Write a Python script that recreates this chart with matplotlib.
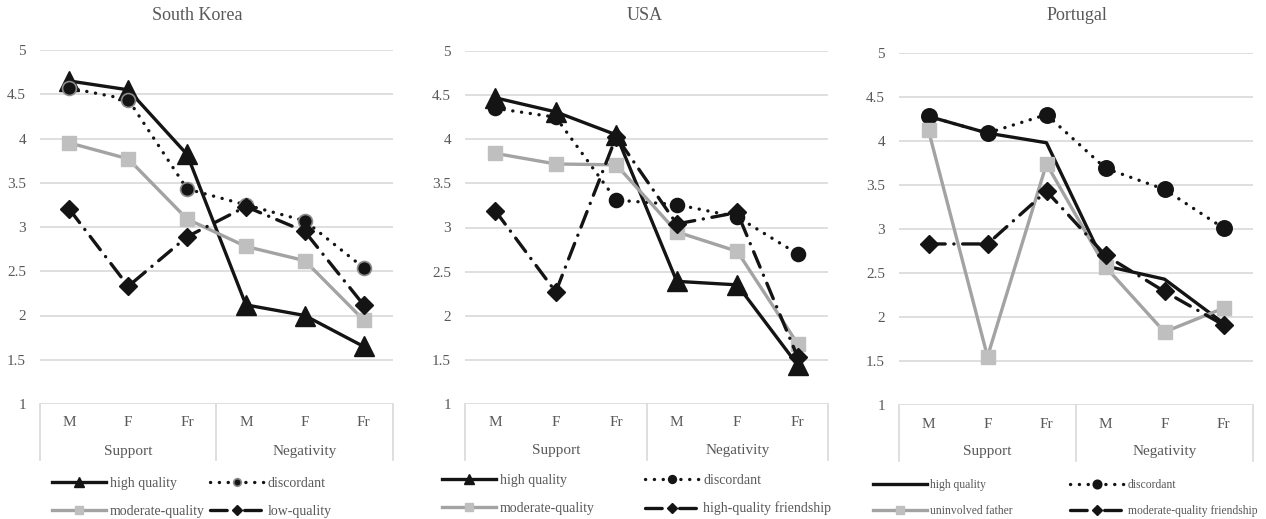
import matplotlib
matplotlib.use("Agg")
import matplotlib.pyplot as plt
import matplotlib.transforms as mtransforms

plt.rcParams['font.family'] = ['Liberation Serif', 'DejaVu Serif']

# ---------------- data ----------------
categories = ['M', 'F', 'Fr', 'M', 'F', 'Fr']
groups = ['Support', 'Negativity']
yticks = [1, 1.5, 2, 2.5, 3, 3.5, 4, 4.5, 5]
ytick_labels = ['1', '1.5', '2', '2.5', '3', '3.5', '4', '4.5', '5']

titles = ['South Korea', 'USA', 'Portugal']

sk_high = [4.65, 4.55, 3.82, 2.12, 2.00, 1.65]
sk_disc = [4.57, 4.44, 3.43, 3.25, 3.07, 2.54]
sk_mod = [3.95, 3.77, 3.09, 2.78, 2.62, 1.95]
sk_low = [3.20, 2.33, 2.89, 3.23, 2.95, 2.12]

usa_high = [4.47, 4.31, 4.05, 2.39, 2.35, 1.44]
usa_disc = [4.35, 4.25, 3.31, 3.26, 3.12, 2.70]
usa_mod = [3.84, 3.72, 3.71, 2.95, 2.73, 1.68]
usa_hqf = [3.19, 2.27, 4.03, 3.04, 3.17, 1.53]

pt_high = [4.28, 4.09, 3.98, 2.58, 2.43, 1.93]
pt_disc = [4.28, 4.09, 4.30, 3.69, 3.45, 3.01]
pt_uninv = [4.12, 1.55, 3.74, 2.57, 1.83, 2.10]
pt_mqf = [2.83, 2.83, 3.43, 2.70, 2.29, 1.91]

sk_labels = ['high quality', 'discordant', 'moderate-quality', 'low-quality']
usa_labels = ['high quality', 'discordant', 'moderate-quality', 'high-quality friendship']
pt_labels = ['high quality', 'discordant', 'uninvolved father', 'moderate-quality friendship']

# ---------------- styles ----------------
TXT = '#595959'
GRID = '#d9d9d9'
BLACK = '#141414'
GRAYL = '#a3a3a3'
GRAYM = '#bfbfbf'

dotted = (0, (0.05, 2.6))
dashdot = (0, (5.0, 2.6, 0.05, 2.6))

W, H = 1266, 519
fig = plt.figure(figsize=(W / 100, H / 100), dpi=100)

def fbox(l, r, top, bot):
    return [l / W, (H - bot) / H, (r - l) / W, (bot - top) / H]

axes_px = [(40, 393, 50, 404), (465, 828, 51, 404), (899, 1253, 53, 405)]
title_x = [197, 645, 1077]

panels = [
    (sk_high, sk_disc, sk_mod, sk_low, sk_labels, True, 'gray'),
    (usa_high, usa_disc, usa_mod, usa_hqf, usa_labels, True, 'black'),
    (pt_high, pt_disc, pt_uninv, pt_mqf, pt_labels, False, 'black'),
]

legend_cfg = [
    # x, ytop, fontsize, columnspacing, labelspacing
    (52, 477, 10, 0.35, 1.05),
    (442, 474, 10, 3.6, 1.05),
    (873, 479, 8.4, 4.9, 1.2),
]

x = list(range(len(categories)))

for i, (ax_px, pdata) in enumerate(zip(axes_px, panels)):
    high, disc, mod, fourth, labels, tri, circ_edge = pdata
    ax = fig.add_axes(fbox(*ax_px))
    ax.set_xlim(-0.5, 5.5)
    ax.set_ylim(1, 5)
    for s in ax.spines.values():
        s.set_visible(False)
    ax.set_yticks(yticks)
    ax.set_yticklabels(ytick_labels)
    ax.yaxis.grid(True, color=GRID, lw=1.2)
    ax.set_axisbelow(True)
    ax.set_xticks(x)
    ax.set_xticklabels(categories)
    ax.tick_params(axis='both', length=0, labelsize=11, colors=TXT)
    ax.tick_params(axis='y', pad=10)
    ax.tick_params(axis='x', pad=9)

    trans = mtransforms.blended_transform_factory(ax.transData, ax.transAxes)
    for xb in [-0.5, 2.5, 5.5]:
        ax.plot([xb, xb], [0, -0.158], transform=trans, color=GRID, lw=1.2, clip_on=False)
    for gi, g in enumerate(groups):
        ax.text(1 + 3 * gi, -0.133, g, transform=trans, ha='center', va='center',
                fontsize=11, color=TXT)

    lw = 2.4
    h1, = ax.plot(x, high, color=BLACK, lw=lw, marker='^' if tri else None,
                  ms=14, mfc=BLACK, mec=BLACK, label=labels[0], zorder=3)
    ecol = '#8c8c8c' if circ_edge == 'gray' else BLACK
    h2, = ax.plot(x, disc, color=BLACK, lw=lw, ls=dotted, dash_capstyle='round',
                  marker='o', ms=11 if i == 2 else 10, mfc=BLACK, mec=ecol, mew=1.2,
                  label=labels[1], zorder=4)
    h3, = ax.plot(x, mod, color=GRAYL, lw=lw, marker='s', ms=10, mfc=GRAYM, mec=GRAYM,
                  label=labels[2], zorder=5)
    h4, = ax.plot(x, fourth, color=BLACK, lw=lw, ls=dashdot, dash_capstyle='round',
                  marker='D', ms=9, mfc=BLACK, mec=BLACK, label=labels[3], zorder=6)

    fig.text(title_x[i] / W, (H - 16) / H, titles[i], ha='center', va='center',
             fontsize=13, color=TXT)

    lx, ly, lfs, csp, lsp = legend_cfg[i]
    ax.legend(handles=[h1, h3, h2, h4], ncol=2, loc='upper left',
              bbox_to_anchor=(lx / W, (H - ly) / H), bbox_transform=fig.transFigure,
              frameon=False, fontsize=lfs, handlelength=4.0 * 10 / lfs * 0.97,
              handletextpad=0.3, columnspacing=csp, labelspacing=lsp,
              borderpad=0, borderaxespad=0, markerscale=0.55, numpoints=1,
              labelcolor=TXT)

fig.savefig('out.png', dpi=100)
